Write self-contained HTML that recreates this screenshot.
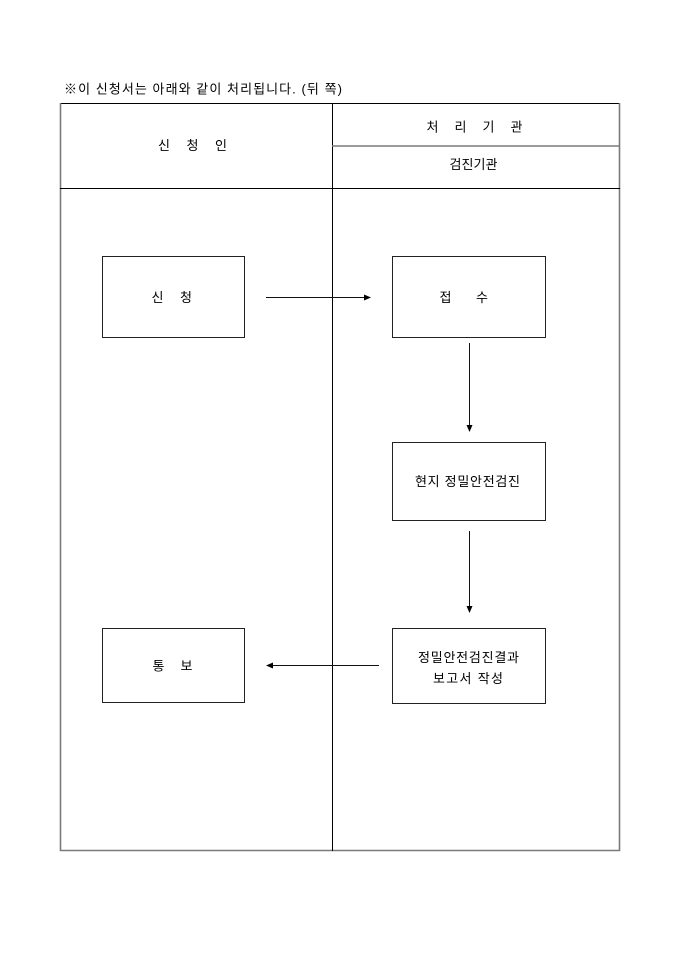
<!DOCTYPE html>
<html>
<head>
<meta charset="utf-8">
<style>
  html, body { margin: 0; padding: 0; background: #fff; }
  body { width: 680px; height: 962px; overflow: hidden; }
  svg { display: block; }
  text { font-family: "Liberation Sans", "Noto Sans CJK KR", "NanumGothic", sans-serif; fill: #000; font-size: 13px; }
</style>
</head>
<body>
<svg width="680" height="962" viewBox="0 0 680 962" xmlns="http://www.w3.org/2000/svg">
  <!-- title -->
  <text x="64" y="93.5" textLength="278" lengthAdjust="spacing">※이 신청서는 아래와 같이 처리됩니다. (뒤  쪽)</text>

  <!-- table frame -->
  <line x1="60" y1="103.5" x2="620" y2="103.5" stroke="#000" stroke-width="1"/>
  <line x1="60.5" y1="103" x2="60.5" y2="851" stroke="#7a7a7a" stroke-width="1.6"/>
  <line x1="619.5" y1="103" x2="619.5" y2="851" stroke="#7a7a7a" stroke-width="1.6"/>
  <line x1="60" y1="850.5" x2="620" y2="850.5" stroke="#7a7a7a" stroke-width="1.6"/>
  <line x1="332.5" y1="103" x2="332.5" y2="851" stroke="#000" stroke-width="1"/>
  <line x1="332" y1="146" x2="620" y2="146" stroke="#7a7a7a" stroke-width="1.6"/>
  <line x1="60" y1="188.5" x2="620" y2="188.5" stroke="#000" stroke-width="1"/>

  <!-- header texts -->
  <text x="164" y="150" text-anchor="middle">신</text>
  <text x="192.5" y="150" text-anchor="middle">청</text>
  <text x="221" y="150" text-anchor="middle">인</text>

  <text x="432.5" y="131.5" text-anchor="middle">처</text>
  <text x="460.5" y="131.5" text-anchor="middle">리</text>
  <text x="488.5" y="131.5" text-anchor="middle">기</text>
  <text x="516.5" y="131.5" text-anchor="middle">관</text>

  <text x="449.5" y="169" textLength="48" lengthAdjust="spacing">검진기관</text>

  <!-- boxes -->
  <rect x="102.5" y="256.5" width="142" height="81" fill="none" stroke="#222" stroke-width="1"/>
  <rect x="392.5" y="256.5" width="153" height="81" fill="none" stroke="#222" stroke-width="1"/>
  <rect x="392.5" y="442.5" width="153" height="78" fill="none" stroke="#222" stroke-width="1"/>
  <rect x="392.5" y="628.5" width="153" height="75" fill="none" stroke="#222" stroke-width="1"/>
  <rect x="102.5" y="628.5" width="142" height="74" fill="none" stroke="#222" stroke-width="1"/>

  <!-- box texts -->
  <text x="157.5" y="302" text-anchor="middle">신</text>
  <text x="186" y="302" text-anchor="middle">청</text>

  <text x="445.5" y="302" text-anchor="middle">접</text>
  <text x="482" y="302" text-anchor="middle">수</text>

  <text x="415" y="486" textLength="105" lengthAdjust="spacing">현지 정밀안전검진</text>

  <text x="418" y="662" textLength="101" lengthAdjust="spacing">정밀안전검진결과</text>
  <text x="433" y="683" textLength="70" lengthAdjust="spacing">보고서 작성</text>

  <text x="158.5" y="670.5" text-anchor="middle">통</text>
  <text x="186.5" y="670.5" text-anchor="middle">보</text>

  <!-- arrows -->
  <line x1="266" y1="297.5" x2="365" y2="297.5" stroke="#111" stroke-width="1"/>
  <polygon points="371,297.5 364,294.5 364,300.5" fill="#000"/>

  <line x1="469.5" y1="343" x2="469.5" y2="426" stroke="#111" stroke-width="1"/>
  <polygon points="469.5,432 466.5,425 472.5,425" fill="#000"/>

  <line x1="469.5" y1="531" x2="469.5" y2="607" stroke="#111" stroke-width="1"/>
  <polygon points="469.5,613 466.5,606 472.5,606" fill="#000"/>

  <line x1="379" y1="665.5" x2="272" y2="665.5" stroke="#111" stroke-width="1"/>
  <polygon points="266,665.5 273,662.5 273,668.5" fill="#000"/>
</svg>
</body>
</html>
